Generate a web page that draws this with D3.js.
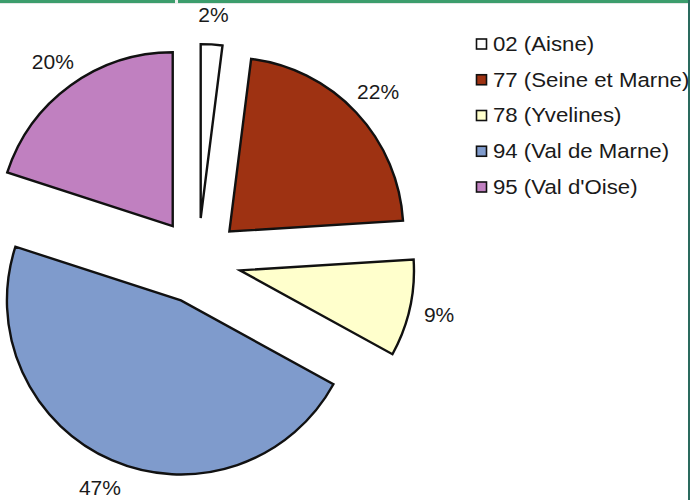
<!DOCTYPE html>
<html><head><meta charset="utf-8">
<script src="https://cdn.jsdelivr.net/npm/d3@7"></script>
<style>html,body{margin:0;padding:0;background:#fff;}svg{display:block;}</style>
</head><body>
<svg id="c" width="690" height="500"></svg>
<script>
const categories = ["02 (Aisne)", "77 (Seine et Marne)", "78 (Yvelines)", "94 (Val de Marne)", "95 (Val d'Oise)"];
const values = [2, 22, 9, 47, 20];
const valueLabels = ["2%", "22%", "9%", "47%", "20%"];
const colors = ["#ffffff", "#9e3212", "#ffffcc", "#7f9bcc", "#c080c0"];

const svg = d3.select("#c");
// frame decorations
svg.append("rect").attr("x",0).attr("y",0).attr("width",690).attr("height",3).attr("fill","#3c9d6c");
svg.append("rect").attr("x",0).attr("y",3).attr("width",690).attr("height",1).attr("fill","#e4e8e6");
svg.append("rect").attr("x",175).attr("y",0).attr("width",3).attr("height",4).attr("fill","#f0f0f0");
svg.append("rect").attr("x",688).attr("y",0).attr("width",2).attr("height",500).attr("fill","#2a6a5e");

const cx = 198, cy = 261, R = 174, explode = 43, labelR = 247;
const pie = d3.pie().sort(null).value(d => d).startAngle(0).endAngle(2*Math.PI);
const arcs = pie(values);
const arc = d3.arc().innerRadius(0).outerRadius(R);
const labelArc = d3.arc().innerRadius(labelR).outerRadius(labelR);

const g = svg.append("g").attr("transform", `translate(${cx},${cy})`);
g.selectAll("path.slice").data(arcs).join("path")
  .attr("class","slice")
  .attr("d", arc)
  .attr("fill", (d,i) => colors[i])
  .attr("stroke", "#111")
  .attr("stroke-width", 2.4)
  .attr("stroke-linejoin", "miter")
  .attr("transform", d => {
    const a = (d.startAngle + d.endAngle)/2;
    return `translate(${explode*Math.sin(a)},${-explode*Math.cos(a)})`;
  });

g.selectAll("text.lbl").data(arcs).join("text")
  .attr("class","lbl")
  .attr("transform", d => `translate(${labelArc.centroid(d)})`)
  .attr("text-anchor","middle")
  .attr("dominant-baseline","central")
  .attr("font-family","Liberation Sans, Arial, sans-serif")
  .attr("font-size", 21)
  .attr("fill","#1a1a1a")
  .text((d,i) => valueLabels[i]);

const leg = svg.append("g");
const legY = d3.scalePoint().domain(categories).range([44, 187]);
const items = leg.selectAll("g").data(categories).join("g")
  .attr("transform", d => `translate(476,${legY(d)})`);
items.append("rect").attr("x",0.5).attr("y",-5).attr("width",10).attr("height",10)
  .attr("fill",(d,i)=>colors[i]).attr("stroke","#111").attr("stroke-width",1.6);
items.append("text")
  .attr("transform","translate(17,0) scale(1.14,1)")
  .attr("dominant-baseline","central")
  .attr("font-family","Liberation Sans, Arial, sans-serif")
  .attr("font-size", 19.5)
  .attr("fill","#1a1a1a")
  .text(d => d);
</script>
</body></html>
